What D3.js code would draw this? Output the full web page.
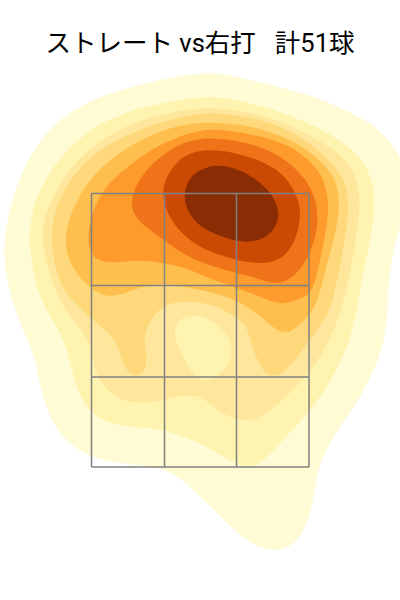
<!DOCTYPE html>
<html><head><meta charset="utf-8">
<script src="https://cdn.jsdelivr.net/npm/d3@7"></script>
<style>html,body{margin:0;padding:0;background:#fff;overflow:hidden}svg{display:block}</style>
</head><body><div id="c"></div>
<script>
const titleText = "ストレート vs右打   計51球";
const zoneX = [-108.5,-35.5,36.5,109];
const zoneY = [406.5,314.5,223,133];
const palette = ["#fffbd4","#fff3b0","#fee79c","#fed87a","#febf4e","#fe9b2d","#ef7319","#ca4a04","#8a2d04"];
const level1 = [[0,527],[20,527],[50,520],[100,508],[133,496],[167,479],[178,471],[193,455],[202,440],[206,410],[202,377],[195,357],[190,330],[188,303],[187,280],[183,253],[173,227],[157,197],[137,170],[122,143],[115,117],[112,90],[103,67],[90,52],[73,49],[57,53],[37,67],[17,87],[0,103],[-17,120],[-33,130],[-53,134],[-83,137],[-110,143],[-133,157],[-150,180],[-160,213],[-165,243],[-177,270],[-185,290],[-194,323],[-197,353],[-191,390],[-180,425],[-161,460],[-137,483],[-113,498],[-83,509],[-40,521]];
const level2 = [[0,503],[20,503],[50,497],[83,487],[113,475],[140,460],[160,444],[173,420],[175,397],[172,367],[163,327],[157,290],[150,260],[137,230],[120,202],[100,178],[80,157],[63,139],[50,132],[37,136],[17,147],[0,157],[-27,168],[-50,172],[-83,174],[-103,182],[-117,197],[-127,223],[-133,253],[-145,277],[-158,296],[-167,327],[-171,357],[-169,383],[-162,407],[-147,433],[-127,457],[-100,477],[-67,490],[-33,498]];
const level3 = [[0,492],[20,492],[50,488],[83,478],[113,463],[140,447],[156,427],[160,400],[159,383],[153,340],[143,295],[133,267],[117,237],[100,217],[80,197],[63,184],[47,178],[30,182],[13,193],[0,205],[-20,205],[-40,198],[-67,197],[-80,200],[-97,213],[-107,233],[-110,260],[-127,280],[-140,297],[-153,333],[-158,360],[-156,383],[-143,413],[-123,440],[-97,462],[-67,477],[-33,487]];
const island = [[-13,285],[3,284],[20,275],[32,258],[32,243],[24,228],[5,216],[-8,226],[-17,243],[-26,263],[-25,277]];
const level4 = [[0,487],[20,487],[50,483],[77,475],[103,462],[127,443],[144,423],[149,400],[147,373],[140,333],[133,300],[128,287],[117,270],[93,237],[80,224],[67,224],[58,237],[50,260],[47,275],[30,288],[7,297],[-13,299],[-35,297],[-50,280],[-57,263],[-53,243],[-54,230],[-65,222],[-76,232],[-80,250],[-90,267],[-110,282],[-128,300],[-137,310],[-145,333],[-149,357],[-147,383],[-137,410],[-117,437],[-93,455],[-67,468],[-33,480]];
const level5 = [[0,478],[20,477],[50,475],[93,460],[117,443],[136,423],[140,397],[137,373],[128,340],[117,295],[107,283],[97,272],[85,266],[73,272],[57,287],[37,300],[7,309],[-17,313],[-35,317],[-60,313],[-80,305],[-93,303],[-108,310],[-125,327],[-134,347],[-135,367],[-127,393],[-110,422],[-87,443],[-60,460],[-33,472]];
const level6 = [[0,470],[20,471],[50,466],[83,458],[107,443],[124,423],[129,397],[127,373],[120,340],[113,305],[95,300],[82,295],[68,300],[37,312],[7,322],[-13,332],[-37,337],[-60,340],[-77,338],[-93,337],[-109,342],[-113,363],[-108,387],[-97,412],[-73,433],[-47,452],[-23,463]];
const level7 = [[0,461],[13,462],[33,460],[63,453],[87,440],[107,420],[116,400],[118,383],[116,363],[107,340],[95,324],[78,314],[57,322],[37,327],[0,337],[-23,350],[-43,365],[-60,377],[-69,390],[-68,407],[-57,427],[-40,443],[-20,457]];
const level8 = [[0,450],[20,450],[43,445],[67,437],[87,423],[99,400],[101,383],[96,360],[84,342],[67,336],[43,338],[20,345],[0,352],[-23,370],[-36,393],[-38,413],[-30,430],[-17,444]];
const level9 = [[0,430],[13,435],[27,434],[43,429],[63,416],[76,400],[80,383],[73,367],[57,358],[37,358],[17,365],[0,373],[-13,388],[-17,407],[-10,423]];

const shapes = [
  [level1,palette[0]],[level2,palette[1]],[level3,palette[2]],[island,palette[1]],
  [level4,palette[3]],[level5,palette[4]],[level6,palette[5]],[level7,palette[6]],
  [level8,palette[7]],[level9,palette[8]]
];
const W=400,H=600;
const x=d3.scaleLinear().domain([-200,200]).range([0,W]);
const y=d3.scaleLinear().domain([0,600]).range([H,0]);
const svg=d3.select("#c").append("svg").attr("width",W).attr("height",H);
const line=d3.line().x(d=>x(d[0])).y(d=>y(d[1])).curve(d3.curveBasisClosed);
svg.selectAll("path.c").data(shapes).join("path").attr("class","c")
  .attr("d",d=>line(d[0])).attr("fill",d=>d[1]).attr("stroke","none");
const g=svg.append("g").attr("stroke","#808080").attr("stroke-width",1.5).attr("fill","none");
g.selectAll("line.v").data(zoneX).join("line").attr("class","v")
  .attr("x1",d=>x(d)).attr("x2",d=>x(d)).attr("y1",y(zoneY[0])).attr("y2",y(zoneY[3]));
g.selectAll("line.h").data(zoneY).join("line").attr("class","h")
  .attr("y1",d=>y(d)).attr("y2",d=>y(d)).attr("x1",x(zoneX[0])).attr("x2",x(zoneX[3]));
svg.append("text").attr("x",W/2).attr("y",52).attr("text-anchor","middle")
  .attr("font-family","Roboto,'Noto Sans CJK JP',sans-serif").attr("font-size",25.5)
  .attr("fill","#000").style("white-space","pre").text(titleText);
</script></body></html>
